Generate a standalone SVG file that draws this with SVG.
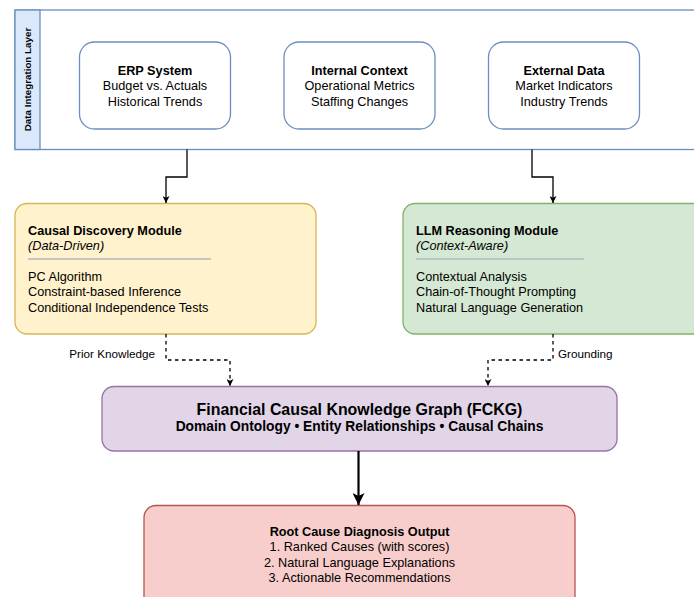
<svg xmlns="http://www.w3.org/2000/svg" width="694" height="597" viewBox="0 0 694 597">
<defs>
<style>
text{font-family:"Liberation Sans",Arial,sans-serif;fill:#000}
.t{font-size:12.7px}
.b{font-weight:bold}
.i{font-style:italic}
.c{text-anchor:middle}
.src{fill:#fff;stroke:#6c8ebf;stroke-width:1.3}
.sep{stroke:#b0b7c3;stroke-width:1.3}
.ln{fill:none;stroke:#000;stroke-width:1.3}
.dash{fill:none;stroke:#000;stroke-width:1.3;stroke-dasharray:3.5 3.5}
.lbl{font-size:11.7px}
</style>
<marker id="ah" viewBox="0 0 10 10" refX="10" refY="5" markerWidth="7" markerHeight="7" markerUnits="userSpaceOnUse" orient="auto"><path d="M0,0 L10,5 L0,10 L2.5,5 Z" fill="#000"/></marker>
<marker id="ahb" viewBox="0 0 10 10" refX="10" refY="5" markerWidth="12" markerHeight="12" markerUnits="userSpaceOnUse" orient="auto"><path d="M0,0 L10,5 L0,10 L2.5,5 Z" fill="#000"/></marker>
</defs>
<rect width="694" height="597" fill="#fff"/>

<g id="integration-layer">
<rect x="15" y="10" width="720" height="139.5" fill="#fff" stroke="#6c8ebf" stroke-width="1.3"/>
<rect x="15" y="10" width="25" height="139.5" fill="#dae8fc" stroke="#6c8ebf" stroke-width="1.3"/>
<text class="b c" font-size="9.8" transform="translate(31,79.5) rotate(-90)">Data Integration Layer</text>
</g>

<g id="erp">
<rect class="src" x="79.5" y="42" width="151" height="87" rx="15"/>
<text class="t b c" x="155" y="75">ERP System</text>
<text class="t c" x="155" y="90">Budget vs. Actuals</text>
<text class="t c" x="155" y="105.5">Historical Trends</text>
</g>

<g id="internal">
<rect class="src" x="284" y="42" width="151" height="87" rx="15"/>
<text class="t b c" x="359.5" y="75">Internal Context</text>
<text class="t c" x="359.5" y="90">Operational Metrics</text>
<text class="t c" x="359.5" y="105.5">Staffing Changes</text>
</g>

<g id="external">
<rect class="src" x="488.5" y="42" width="151" height="87" rx="15"/>
<text class="t b c" x="564" y="75">External Data</text>
<text class="t c" x="564" y="90">Market Indicators</text>
<text class="t c" x="564" y="105.5">Industry Trends</text>
</g>

<g id="causal">
<rect x="15" y="203.5" width="301" height="130.5" rx="12" fill="#fff2cc" stroke="#d6b656" stroke-width="1.3"/>
<text class="t b" x="28" y="234.5">Causal Discovery Module</text>
<text class="t i" x="28" y="249.5">(Data-Driven)</text>
<line class="sep" x1="28" y1="259" x2="211" y2="259"/>
<text class="t" x="28" y="280.5">PC Algorithm</text>
<text class="t" x="28" y="296">Constraint-based Inference</text>
<text class="t" x="28" y="311.5">Conditional Independence Tests</text>
</g>

<g id="llm">
<rect x="403" y="203.5" width="320" height="130.5" rx="12" fill="#d5e8d4" stroke="#82b366" stroke-width="1.3"/>
<text class="t b" x="416" y="234.5">LLM Reasoning Module</text>
<text class="t i" x="416" y="249.5">(Context-Aware)</text>
<line class="sep" x1="416" y1="259" x2="584" y2="259"/>
<text class="t" x="416" y="280.5">Contextual Analysis</text>
<text class="t" x="416" y="296">Chain-of-Thought Prompting</text>
<text class="t" x="416" y="311.5">Natural Language Generation</text>
</g>

<g id="fckg">
<rect x="102" y="386.5" width="515" height="64.5" rx="12" fill="#e1d5e7" stroke="#9673a6" stroke-width="1.3"/>
<text class="b c" font-size="15.9" x="359.5" y="414.5">Financial Causal Knowledge Graph (FCKG)</text>
<text class="b c" font-size="13.8" x="359.5" y="431">Domain Ontology • Entity Relationships • Causal Chains</text>
</g>

<g id="output">
<rect x="144" y="505.5" width="431" height="110" rx="12" fill="#f8cecc" stroke="#b85450" stroke-width="1.3"/>
<text class="t b c" x="359.5" y="535.5">Root Cause Diagnosis Output</text>
<text class="t c" x="359.5" y="551">1. Ranked Causes (with scores)</text>
<text class="t c" x="359.5" y="566.5">2. Natural Language Explanations</text>
<text class="t c" x="359.5" y="582">3. Actionable Recommendations</text>
</g>

<g id="connectors">
<path class="ln" d="M187,149.5 V177 H166 V203" marker-end="url(#ah)"/>
<path class="ln" d="M532,149.5 V177 H553 V203" marker-end="url(#ah)"/>
<path class="dash" d="M166,334 V360 H230 V386" marker-end="url(#ah)"/>
<path class="dash" d="M553,334 V360 H488 V386" marker-end="url(#ah)"/>
<path d="M358.5,451 V505" fill="none" stroke="#000" stroke-width="2.2" marker-end="url(#ahb)"/>
<text class="lbl" x="155" y="358" text-anchor="end">Prior Knowledge</text>
<text class="lbl" x="558" y="358">Grounding</text>
</g>
</svg>
